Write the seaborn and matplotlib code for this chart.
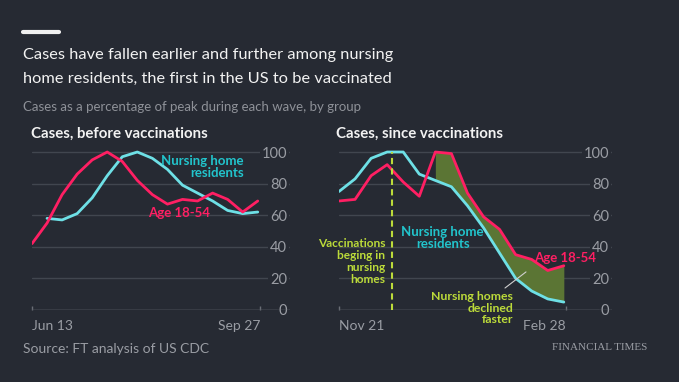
import matplotlib
matplotlib.use('Agg')
import matplotlib.pyplot as plt
import seaborn as sns
import pandas as pd
import numpy as np

# weekly values, % of peak
before_dates = pd.date_range('2020-06-13', periods=16, freq='7D')
before_young = [42, 55, 73, 86, 95, 100, 94, 82, 73, 67, 70, 69, 74, 70, 62, 69]
before_nursing = [np.nan, 58, 57, 61, 71, 85, 97, 100, 96, 89, 79, 74, 69, 63, 61, 62]

since_dates = pd.date_range('2020-11-21', periods=15, freq='7D')
since_young = [69, 70, 85, 92, 81, 72, 100, 99, 74, 59, 51, 35, 32, 25, 28]
since_nursing = [75, 83, 96, 100, 100, 86, 82, 78, 66, 52, 36, 20, 12, 7, 5]

vacc_start = pd.Timestamp('2020-12-14')

BG = '#262a33'
GRID = '#41464f'
GREY = '#9a9da4'
RED = '#ff1f63'
TEAL = '#6ee0e6'
TEAL_TXT = '#22c4cc'
GREEN = '#bcdb3a'
FILL = '#5b7534'

sns.set_theme(style='dark')
plt.rcParams['font.family'] = ['Lato', 'DejaVu Sans']

fig = plt.figure(figsize=(6.79, 3.82), dpi=100, facecolor=BG)
ax1 = fig.add_axes([32/679, 0.1885, (290-32)/679, 0.426])
ax2 = fig.add_axes([339/679, 0.1885, (612-339)/679, 0.426])

df1 = pd.DataFrame({'date': before_dates, 'young': before_young, 'nursing': before_nursing})
df2 = pd.DataFrame({'date': since_dates, 'young': since_young, 'nursing': since_nursing})

sns.lineplot(data=df1, x='date', y='nursing', color=TEAL, lw=2, ax=ax1)
sns.lineplot(data=df1, x='date', y='young', color=RED, lw=2, ax=ax1)

sub = df2.iloc[6:]
ax2.fill_between(sub['date'], sub['nursing'], sub['young'], color=FILL, lw=0)
sns.lineplot(data=df2, x='date', y='nursing', color=TEAL, lw=2, ax=ax2)
sns.lineplot(data=df2, x='date', y='young', color=RED, lw=2, ax=ax2)
ax2.axvline(vacc_start, ymin=0, ymax=100/103, color=GREEN, lw=1.5, ls=(0, (3, 2)))

limits = [(pd.Timestamp('2020-06-13'), pd.Timestamp('2020-10-11')),
          (pd.Timestamp('2020-11-21'), pd.Timestamp('2021-03-20'))]
ticks = [[pd.Timestamp('2020-06-13'), pd.Timestamp('2020-09-27')],
         [pd.Timestamp('2020-11-21'), pd.Timestamp('2021-02-28')]]
labels = [['Jun 13', 'Sep 27'], ['Nov 21', 'Feb 28']]

for ax, lim, tk, lb in zip([ax1, ax2], limits, ticks, labels):
    ax.set_facecolor(BG)
    ax.set_xlim(lim)
    ax.set_ylim(0, 103)
    ax.set_xlabel('')
    ax.set_ylabel('')
    for s in ax.spines.values():
        s.set_visible(False)
    ax.set_yticks([0, 20, 40, 60, 80, 100])
    ax.yaxis.tick_right()
    ax.grid(axis='y', color=GRID, lw=1)
    ax.grid(axis='x', visible=False)
    ax.axhline(0, color='#6a6e76', lw=1, zorder=1)
    ax.tick_params(axis='y', length=0, pad=-2, labelsize=10.5, labelcolor=GREY)
    for t in ax.get_yticklabels():
        t.set_horizontalalignment('right')
        t.set_bbox(dict(facecolor=BG, edgecolor='none', pad=1.5))
    ax.set_xticks(tk)
    ax.set_xticklabels(lb)
    ax.tick_params(axis='x', direction='in', length=3, width=1, color='#6a6e76',
                   labelsize=10, labelcolor=GREY, pad=7, bottom=True)
    xl = ax.get_xticklabels()
    xl[0].set_horizontalalignment('left')
    xl[-1].set_horizontalalignment('right')

# annotations
ax1.text(0.82, 0.876, 'Nursing home\nresidents', transform=ax1.transAxes, ha='right', va='center',
         color=TEAL_TXT, fontsize=9.5, fontweight='bold', linespacing=1.0)
ax1.text(0.45, 0.596, 'Age 18-54', transform=ax1.transAxes, ha='left', va='center',
         color=RED, fontsize=9.5, fontweight='bold')

ax2.text(0.94, 0.32, 'Age 18-54', transform=ax2.transAxes, ha='right', va='center',
         color=RED, fontsize=9.5, fontweight='bold')
ax2.text(0.38, 0.44, 'Nursing home\nresidents', transform=ax2.transAxes, ha='center', va='center',
         color=TEAL_TXT, fontsize=9.5, fontweight='bold', linespacing=1.0)
ax2.text(0.17, 0.30, 'Vaccinations\nbeging in\nnursing\nhomes', transform=ax2.transAxes,
         ha='right', va='center', color=GREEN, fontsize=8.6, fontweight='bold', linespacing=1.1)
ax2.text(0.637, 0.012, 'Nursing homes\ndeclined\nfaster', transform=ax2.transAxes,
         ha='right', va='center', color=GREEN, fontsize=8.8, fontweight='bold', linespacing=1.1)
ax2.plot([0.608, 0.685], [0.135, 0.234], transform=ax2.transAxes, color='#d0d0d0', lw=0.8)

# header
fig.add_artist(plt.Line2D([23/679, 59/679], [1-31.5/382, 1-31.5/382], color='#f0f0f0', lw=3))
fig.text(23/679, 1-55/382, 'Cases have fallen earlier and further among nursing',
         ha='left', va='center', color='#f2f2f2', fontsize=11.8)
fig.text(23/679, 1-79/382, 'home residents, the first in the US to be vaccinated',
         ha='left', va='center', color='#f2f2f2', fontsize=11.8)
fig.text(23/679, 1-107/382, 'Cases as a percentage of peak during each wave, by group',
         ha='left', va='center', color='#8e9198', fontsize=9.5)
fig.text(31/679, 1-134/382, 'Cases, before vaccinations', ha='left', va='center',
         color='#f2f2f2', fontsize=10.8, fontweight='bold')
fig.text(336/679, 1-134/382, 'Cases, since vaccinations', ha='left', va='center',
         color='#f2f2f2', fontsize=10.8, fontweight='bold')
fig.text(23/679, 1-349/382, 'Source: FT analysis of US CDC', ha='left', va='center',
         color='#9a9da4', fontsize=10)
fig.text(647/679, 1-348/382, 'FINANCIAL TIMES', ha='right', va='center',
         color='#9a9da4', fontsize=8, family='Liberation Serif')

fig.savefig('out.png', dpi=100, facecolor=BG)
